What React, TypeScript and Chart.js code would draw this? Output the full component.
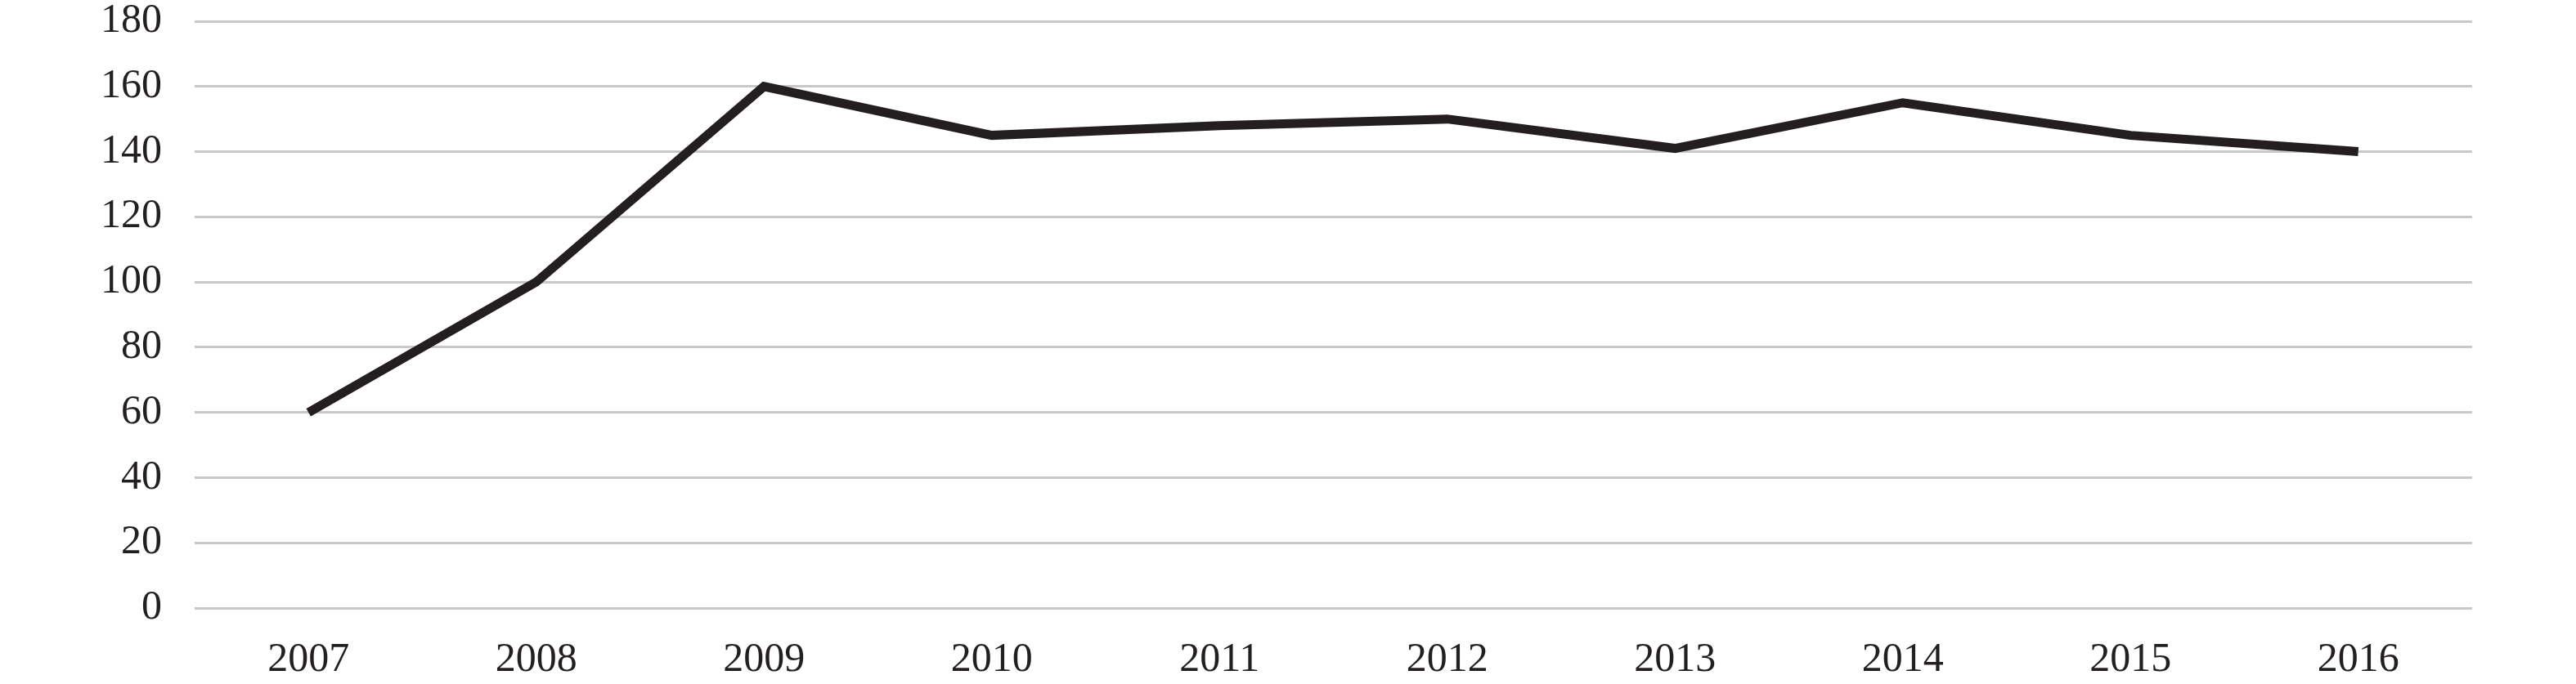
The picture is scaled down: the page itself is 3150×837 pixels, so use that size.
import React, { useEffect, useRef } from "react";
import { Chart, registerables } from "chart.js";

Chart.register(...registerables);

const years: string[] = ["2007", "2008", "2009", "2010", "2011", "2012", "2013", "2014", "2015", "2016"];
const values: number[] = [60, 100, 160, 145, 148, 150, 141, 155, 145, 140];
const yMin = 0;
const yMax = 180;
const yStep = 20;

export default function App() {
  const ref = useRef<HTMLCanvasElement | null>(null);

  useEffect(() => {
    document.body.style.margin = "0";
    const canvas = ref.current;
    if (!canvas) return;
    const font = { family: "'Liberation Serif', 'Times New Roman', serif", size: 50 };
    const chart = new Chart(canvas, {
      type: "line",
      data: {
        labels: years,
        datasets: [
          {
            data: values,
            borderColor: "#231f20",
            borderWidth: 11,
            pointRadius: 0,
            pointHoverRadius: 0,
            tension: 0,
            fill: false,
            borderJoinStyle: "miter",
            borderCapStyle: "butt",
          },
        ],
      },
      options: {
        responsive: false,
        animation: false,
        layout: { padding: { top: 26, right: 127, bottom: 0, left: 0 } },
        plugins: { legend: { display: false }, tooltip: { enabled: false } },
        scales: {
          x: {
            offset: true,
            grid: { display: false, drawTicks: false },
            border: { display: false },
            ticks: { font, color: "#231f20", padding: 34, maxRotation: 0, autoSkip: false },
            afterFit: (s: any) => {
              s.height = 93;
              s.paddingLeft = 0;
              s.paddingRight = 0;
            },
          },
          y: {
            min: yMin,
            max: yMax,
            grid: { color: "#c8c8c8", lineWidth: 3, drawTicks: false },
            border: { display: false },
            ticks: { stepSize: yStep, font, color: "#231f20", padding: 40 },
            afterFit: (s: any) => {
              s.width = 238;
              s.paddingTop = 0;
              s.paddingBottom = 0;
            },
          },
        },
      },
    });
    return () => chart.destroy();
  }, []);

  return (
    <div style={{ width: 3150, height: 837, background: "#ffffff" }}>
      <canvas ref={ref} width={3150} height={837} style={{ display: "block" }} />
    </div>
  );
}
